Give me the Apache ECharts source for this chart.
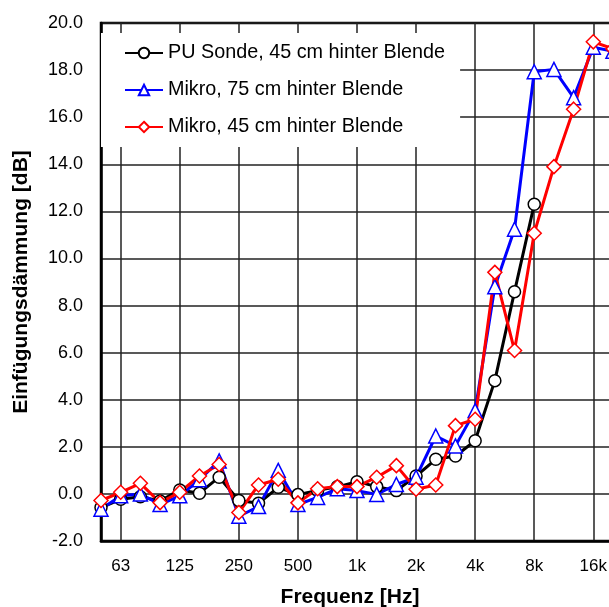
<!DOCTYPE html>
<html>
<head>
<meta charset="utf-8">
<script src="https://cdn.jsdelivr.net/npm/echarts@6/dist/echarts.min.js"></script>
<style>html,body{margin:0;padding:0;background:#fff;}#c{width:609px;height:607px;}</style>
</head>
<body>
<div id="c"></div>
<script>
var categories = ['50','63','80','100','125','160','200','250','315','400','500','630','800','1k','1.25k','1.6k','2k','2.5k','3.15k','4k','5k','6.3k','8k','10k','12.5k','16k','20k'];
var puSonde45 = [-0.58,-0.23,-0.12,-0.3,0.17,0.03,0.71,-0.28,-0.4,0.28,-0.03,0.15,0.3,0.52,0.31,0.14,0.76,1.47,1.61,2.26,4.81,8.59,12.3,null,null,null,null];
var mikro75 = [-0.65,-0.08,0.0,-0.45,-0.08,0.6,1.4,-0.95,-0.54,1.0,-0.45,-0.15,0.22,0.14,-0.02,0.4,0.71,2.46,2.04,3.54,8.8,11.24,17.93,18.03,16.83,18.97,18.8];
var mikro45 = [-0.28,0.07,0.45,-0.37,0.07,0.76,1.25,-0.79,0.38,0.62,-0.38,0.22,0.31,0.31,0.71,1.2,0.2,0.38,2.9,3.17,9.41,6.09,11.07,13.9,16.34,19.2,18.9];
var seriesNames = ['PU Sonde, 45 cm hinter Blende','Mikro, 75 cm hinter Blende','Mikro, 45 cm hinter Blende'];

var font = 'Arial, "Liberation Sans", sans-serif';
var chart = echarts.init(document.getElementById('c'), null, {renderer:'canvas'});
function showIdx(i){ return (i - 1) % 3 === 0; }
chart.setOption({
  animation:false,
  backgroundColor:'#fff',
  grid:{left:101, top:23, width:512, height:518, outerBoundsMode:'none', containLabel:false, show:true, borderColor:'#000', borderWidth:2.5, backgroundColor:'transparent'},
  legend:{
    left:101, top:33, orient:'vertical',
    backgroundColor:'#fff', borderWidth:0,
    padding:[10,15,10,23],
    itemWidth:38, itemHeight:13, itemGap:17,
    textStyle:{fontFamily:font, fontSize:19.8, color:'#000', lineHeight:20},
    data:seriesNames
  },
  xAxis:{
    type:'category', data:categories, boundaryGap:false,
    axisLine:{show:true, onZero:false, lineStyle:{color:'#000', width:2.5}},
    axisTick:{show:false},
    axisLabel:{interval:showIdx, fontFamily:font, fontSize:17, color:'#000', margin:17},
    splitLine:{show:true, interval:showIdx, lineStyle:{color:'#222', width:1.5}},
    name:'Frequenz [Hz]', nameLocation:'middle', nameGap:46,
    nameTextStyle:{fontFamily:font, fontSize:21, fontWeight:'bold', color:'#000', padding:[0,14,0,0]}
  },
  yAxis:{
    type:'value', min:-2, max:20, interval:2,
    axisLine:{show:true, lineStyle:{color:'#000', width:2.5}},
    axisTick:{show:false},
    axisLabel:{formatter:function(v){return v.toFixed(1);}, fontFamily:font, fontSize:18, color:'#000', margin:18},
    splitLine:{show:true, lineStyle:{color:'#222', width:1.5}},
    name:'Einfügungsdämmung [dB]', nameLocation:'middle', nameGap:69,
    nameTextStyle:{fontFamily:font, fontSize:21, fontWeight:'bold', color:'#000'}
  },
  series:[
    {name:seriesNames[0], type:'line', data:puSonde45, symbol:'circle', symbolSize:12, showAllSymbol:true,
     lineStyle:{color:'#000', width:3}, itemStyle:{color:'#fff', borderColor:'#000', borderWidth:1.5}, color:'#000'},
    {name:seriesNames[1], type:'line', data:mikro75, symbol:'triangle', symbolSize:14, showAllSymbol:true,
     lineStyle:{color:'#0000ff', width:3}, itemStyle:{color:'#fff', borderColor:'#0000ff', borderWidth:1.5}, color:'#0000ff'},
    {name:seriesNames[2], type:'line', data:mikro45, symbol:'diamond', symbolSize:14, showAllSymbol:true,
     lineStyle:{color:'#ff0000', width:3}, itemStyle:{color:'#fff', borderColor:'#ff0000', borderWidth:1.5}, color:'#ff0000'}
  ]
});
</script>
</body>
</html>
